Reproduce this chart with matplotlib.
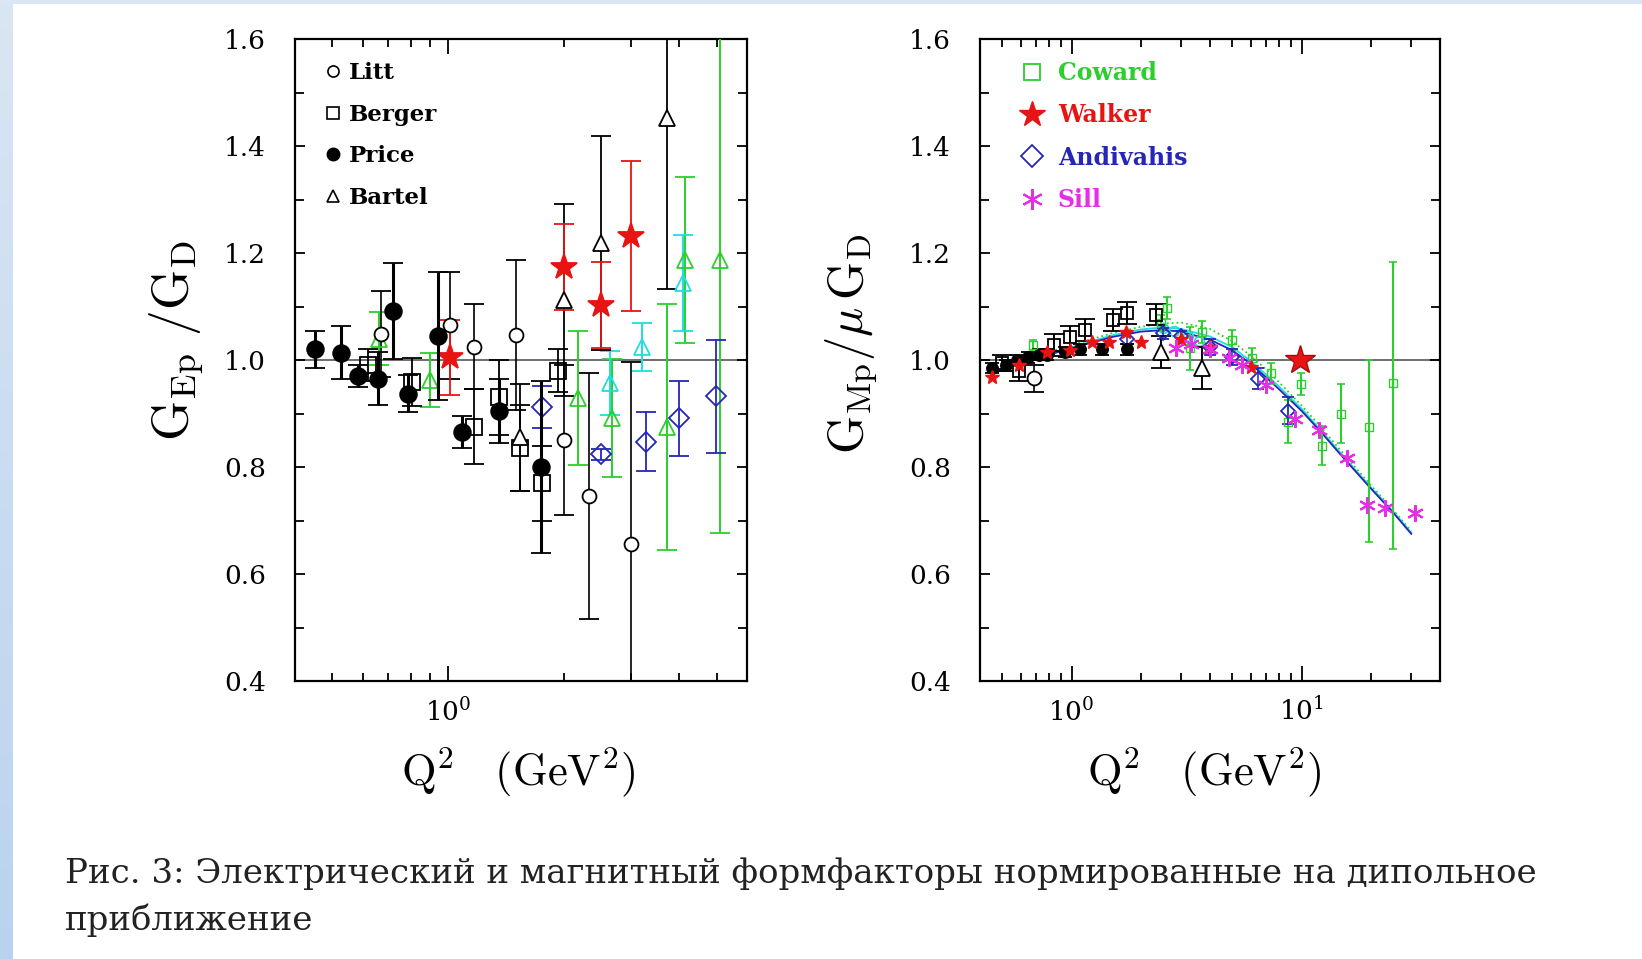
import numpy as np
import matplotlib
matplotlib.use("Agg")
import matplotlib.pyplot as plt
from matplotlib.lines import Line2D
from matplotlib.patches import Rectangle
from matplotlib.ticker import MultipleLocator, LogLocator, LogFormatterMathtext, NullFormatter, FormatStrFormatter

plt.rcParams['font.family'] = 'serif'
plt.rcParams['font.serif'] = ['DejaVu Serif']
plt.rcParams['mathtext.fontset'] = 'cm'

GREEN = '#2ccf2c'
CYAN = '#22dddd'
BLUE = '#2626b8'
RED = '#e81414'
MAGENTA = '#e62ee6'

# -----------------------------
# Left panel: G_Ep / G_D
# -----------------------------
litt_q2 = [0.668, 1.01, 1.17, 1.50, 2.0, 2.33, 3.0]
litt_ge = [1.049, 1.065, 1.025, 1.047, 0.85, 0.746, 0.657]
litt_err = [0.08, 0.10, 0.08, 0.14, 0.14, 0.23, 0.34]

berger_q2 = [0.62, 0.808, 1.166, 1.36, 1.54, 1.755, 1.93]
berger_ge = [0.99, 0.959, 0.875, 0.93, 0.835, 0.77, 0.98]
berger_err = [0.03, 0.045, 0.07, 0.07, 0.08, 0.07, 0.04]

price_q2 = [0.452, 0.528, 0.584, 0.657, 0.72, 0.785, 0.94, 1.09, 1.36, 1.75]
price_ge = [1.02, 1.014, 0.97, 0.965, 1.092, 0.937, 1.045, 0.865, 0.905, 0.80]
price_err = [0.035, 0.05, 0.02, 0.05, 0.09, 0.035, 0.12, 0.03, 0.06, 0.16]

bartel_q2 = [1.54, 2.0, 2.5, 3.72]
bartel_ge = [0.856, 1.112, 1.219, 1.452]
bartel_err = [0.10, 0.18, 0.20, 0.32]

walker_q2 = [1.01, 2.0, 2.5, 3.0]
walker_ge = [1.005, 1.174, 1.103, 1.232]
walker_err = [0.07, 0.08, 0.08, 0.14]

green_q2 = [0.66, 0.90, 2.18, 2.68, 3.72, 4.13, 5.1]
green_ge = [1.04, 0.963, 0.929, 0.891, 0.875, 1.187, 1.187]
green_err = [0.05, 0.05, 0.125, 0.11, 0.23, 0.155, 0.51]

cyan_q2 = [2.64, 3.19, 4.1]
cyan_ge = [0.957, 1.025, 1.144]
cyan_err = [0.06, 0.045, 0.09]

andiv_q2 = [1.755, 2.5, 3.27, 4.0, 4.97]
andiv_ge = [0.912, 0.824, 0.847, 0.891, 0.932]
andiv_err = [0.04, 0.01, 0.055, 0.07, 0.105]

# -----------------------------
# Right panel: G_Mp / mu G_D
# -----------------------------
litt_m_q2 = [0.69]
litt_m = [0.966]
litt_m_err = [0.025]

berger_m_q2 = [0.50, 0.59, 0.84, 0.98, 1.14, 1.51, 1.75, 2.34]
berger_m = [0.995, 0.98, 1.028, 1.043, 1.056, 1.075, 1.088, 1.085]
berger_m_err = [0.015, 0.02, 0.02, 0.02, 0.02, 0.02, 0.02, 0.02]

price_m_q2 = [0.45, 0.52, 0.58, 0.65, 0.72, 0.78, 0.94, 1.09, 1.36, 1.75]
price_m = [0.985, 0.99, 1.0, 1.005, 1.01, 1.01, 1.015, 1.02, 1.02, 1.02]
price_m_err = [0.01, 0.01, 0.01, 0.01, 0.01, 0.01, 0.01, 0.01, 0.01, 0.01]

bartel_m_q2 = [2.46, 3.71]
bartel_m = [1.015, 0.985]
bartel_m_err = [0.03, 0.04]

walker_m_q2 = [0.45, 0.59, 0.78, 0.98, 1.23, 1.46, 1.73, 2.0, 3.0, 4.0, 6.0]
walker_m = [0.968, 0.99, 1.015, 1.019, 1.034, 1.034, 1.052, 1.034, 1.04, 1.025, 0.987]
walker_hi_q2 = [9.8]
walker_hi = [1.0]

coward_q2 = [0.68, 2.46, 2.59, 3.26, 3.71, 5.0, 6.1, 7.4, 8.7, 9.9, 12.3, 14.9, 19.7, 24.9]
coward_m = [1.028, 1.069, 1.097, 1.022, 1.052, 1.037, 1.003, 0.975, 0.885, 0.955, 0.84, 0.90, 0.875, 0.957]
coward_lo = [0.01, 0.015, 0.02, 0.04, 0.02, 0.02, 0.02, 0.02, 0.04, 0.02, 0.037, 0.055, 0.215, 0.31]
coward_hi = [0.01, 0.015, 0.02, 0.04, 0.02, 0.02, 0.02, 0.02, 0.04, 0.02, 0.037, 0.055, 0.125, 0.226]

cyan_m_q2 = [2.5, 2.8, 3.2, 3.6]
cyan_m = [1.06, 1.055, 1.045, 1.035]

andiv_m_q2 = [1.75, 2.5, 3.0, 4.0, 5.0, 6.5, 8.7]
andiv_m = [1.04, 1.05, 1.045, 1.025, 1.005, 0.965, 0.905]
andiv_m_err = [0.01, 0.01, 0.01, 0.015, 0.015, 0.02, 0.025]

sill_q2 = [2.86, 3.3, 4.0, 4.86, 5.5, 7.04, 9.4, 11.97, 15.7, 19.3, 23.0, 31.0]
sill_m = [1.022, 1.03, 1.02, 1.004, 0.99, 0.953, 0.89, 0.87, 0.817, 0.729, 0.723, 0.714]

fit_q2 = [0.45, 0.6, 0.8, 1.0, 1.5, 2.0, 2.5, 3.0, 4.0, 5.0, 6.0, 7.0, 8.0, 10.0, 12.0, 15.0, 20.0, 25.0, 30.0]
fit_blue = [0.975, 0.993, 1.01, 1.022, 1.043, 1.053, 1.056, 1.053, 1.038, 1.018, 0.993, 0.968, 0.945, 0.905, 0.868, 0.82, 0.76, 0.715, 0.675]
fit_cyan = [0.977, 0.995, 1.012, 1.024, 1.046, 1.057, 1.061, 1.058, 1.044, 1.024, 0.998, 0.973, 0.95, 0.909, 0.871, 0.823, 0.762, 0.717, 0.677]
fit_green = [0.98, 0.998, 1.015, 1.028, 1.05, 1.062, 1.068, 1.07, 1.058, 1.035, 1.008, 0.983, 0.958, 0.915, 0.877, 0.828, 0.766, 0.72, 0.68]

W, H = 1642, 959
fig = plt.figure(figsize=(W / 100, H / 100), dpi=100)

# light blue frame of the screenshot
grad = np.linspace(0, 1, 256).reshape(-1, 1)
bax = fig.add_axes([0, 0, 13 / W, 1])
bax.imshow(grad, aspect='auto', cmap=matplotlib.colors.LinearSegmentedColormap.from_list(
    'b', ['#d9e6f4', '#b9d3ee']), extent=[0, 1, 0, 1])
bax.axis('off')
fig.add_artist(Rectangle((0, 1 - 4 / H), 1, 4 / H, transform=fig.transFigure,
                         color='#dae6f4', lw=0))

axL = fig.add_axes([295 / W, 1 - 681 / H, 452 / W, 642 / H])
axR = fig.add_axes([980 / W, 1 - 681 / H, 460 / W, 642 / H])


def style_axis(ax, xmin, xmax):
    ax.set_xscale('log')
    ax.set_xlim(xmin, xmax)
    ax.set_ylim(0.4, 1.6)
    ax.axhline(1.0, color='#555555', lw=1.2, zorder=1)
    ax.yaxis.set_major_locator(MultipleLocator(0.2))
    ax.yaxis.set_minor_locator(MultipleLocator(0.1))
    ax.yaxis.set_major_formatter(FormatStrFormatter('%.1f'))
    ax.xaxis.set_major_locator(LogLocator(base=10))
    ax.xaxis.set_minor_locator(LogLocator(base=10, subs=np.arange(2, 10)))
    ax.xaxis.set_major_formatter(LogFormatterMathtext())
    ax.xaxis.set_minor_formatter(NullFormatter())
    ax.tick_params(which='both', direction='in', top=True, right=True, width=1.3, colors='black')
    ax.tick_params(axis='y', which='major', length=7.5, pad=21, labelsize=19)
    ax.tick_params(axis='y', which='minor', length=6.5)
    ax.tick_params(axis='x', which='major', length=11, pad=12, labelsize=19)
    ax.tick_params(axis='x', which='minor', length=6)
    for s in ax.spines.values():
        s.set_linewidth(1.6)
    ax.set_xlabel(r'$\mathrm{Q}^2\ \ \ (\mathrm{GeV}^2)$', fontsize=32, va='center')


def eb(ax, x, y, err, fmt, color, mfc, ms, lw=1.2, cap=7, mew=1.3, z=3):
    ax.errorbar(x, y, yerr=err, fmt=fmt, color=color, mec=color, mfc=mfc, ms=ms,
                ecolor=color, elinewidth=lw, capsize=cap, capthick=lw, mew=mew, zorder=z)


# ---- left panel ----
style_axis(axL, 0.4, 6.0)
eb(axL, green_q2, green_ge, green_err, '^', GREEN, 'none', 11, lw=1.4)
eb(axL, cyan_q2, cyan_ge, cyan_err, '^', CYAN, 'none', 11, lw=1.4)
eb(axL, andiv_q2, andiv_ge, andiv_err, 'D', BLUE, 'none', 10, lw=1.3)
eb(axL, litt_q2, litt_ge, litt_err, 'o', 'black', 'white', 10, lw=1.2)
eb(axL, berger_q2, berger_ge, berger_err, 's', 'black', 'none', 11, lw=1.3)
eb(axL, bartel_q2, bartel_ge, bartel_err, '^', 'black', 'white', 11, lw=1.3)
eb(axL, walker_q2, walker_ge, walker_err, '*', RED, RED, 19, lw=1.3)
eb(axL, price_q2, price_ge, price_err, 'o', 'black', 'black', 12, lw=2.2, z=4)

axL.set_ylabel(r'$\mathrm{G}_{\mathrm{Ep}}\ /\mathrm{G}_{\mathrm{D}}$', fontsize=37,
               va='center', ha='center')
axL.yaxis.set_label_coords(-0.262, 0.53)
axL.xaxis.set_label_coords(0.493, -0.142)

hL = [Line2D([], [], ls='none', marker='o', mfc='white', mec='black', ms=8, mew=1.2),
      Line2D([], [], ls='none', marker='s', mfc='white', mec='black', ms=8, mew=1.2),
      Line2D([], [], ls='none', marker='o', mfc='black', mec='black', ms=9),
      Line2D([], [], ls='none', marker='^', mfc='white', mec='black', ms=9, mew=1.2)]
axL.legend(hL, ['Litt', 'Berger', 'Price', 'Bartel'], loc='upper left',
           bbox_to_anchor=(0.066, 0.964), frameon=False, borderpad=0, borderaxespad=0,
           handlelength=0.7, handletextpad=0.35, labelspacing=0.85,
           prop={'family': 'DejaVu Serif', 'weight': 'bold', 'size': 16.5})

# ---- right panel ----
style_axis(axR, 0.4, 40.0)
axR.plot(fit_q2, fit_green, color=GREEN, lw=1.3, ls=':', zorder=2)
axR.plot(fit_q2, fit_cyan, color=CYAN, lw=1.3, zorder=2)
axR.plot(fit_q2, fit_blue, color=BLUE, lw=1.3, zorder=2)
axR.errorbar(coward_q2, coward_m, yerr=[coward_lo, coward_hi], fmt='s', color=GREEN, mec=GREEN,
             mfc='none', ms=6, ecolor=GREEN, elinewidth=1.5, capsize=3, capthick=1.2, zorder=3)
axR.plot(cyan_m_q2, cyan_m, 'o', color=CYAN, mfc='none', ms=7, mew=1.3, zorder=3)
eb(axR, andiv_m_q2, andiv_m, andiv_m_err, 'D', BLUE, 'none', 7, lw=1.1, cap=4)
eb(axR, price_m_q2, price_m, price_m_err, 'o', 'black', 'black', 8, lw=1.5, cap=5)
eb(axR, berger_m_q2, berger_m, berger_m_err, 's', 'black', 'none', 9, lw=1.4, cap=7)
eb(axR, litt_m_q2, litt_m, litt_m_err, 'o', 'black', 'white', 10, lw=1.2, cap=7)
eb(axR, bartel_m_q2, bartel_m, bartel_m_err, '^', 'black', 'white', 11, lw=1.4, cap=7)
axR.plot(walker_m_q2, walker_m, '*', color=RED, ms=10, zorder=4)
axR.plot(sill_q2, sill_m, ls='none', marker=(6, 2, 0), color=MAGENTA, ms=12, mew=1.5, zorder=4)
axR.plot(walker_hi_q2, walker_hi, '*', color=RED, mec='#a01010', ms=22, zorder=5)

axR.set_ylabel(r'$\mathrm{G}_{\mathrm{Mp}}/\mu\,\mathrm{G}_{\mathrm{D}}$', fontsize=35,
               va='center', ha='center')
axR.yaxis.set_label_coords(-0.28, 0.525)
axR.xaxis.set_label_coords(0.487, -0.142)

hR = [Line2D([], [], ls='none', marker='s', mfc='none', mec=GREEN, ms=11, mew=1.3),
      Line2D([], [], ls='none', marker='*', color=RED, ms=19),
      Line2D([], [], ls='none', marker='D', mfc='none', mec=BLUE, ms=11, mew=1.3),
      Line2D([], [], ls='none', marker=(6, 2, 0), color=MAGENTA, ms=15, mew=1.5)]
axR.legend(hR, ['Coward', 'Walker', 'Andivahis', 'Sill'], loc='upper left',
           bbox_to_anchor=(0.09, 0.966), frameon=False, borderpad=0, borderaxespad=0,
           handlelength=0.9, handletextpad=0.65, labelspacing=0.78,
           labelcolor=[GREEN, RED, BLUE, MAGENTA],
           prop={'family': 'DejaVu Serif', 'weight': 'bold', 'size': 17})

# ---- caption ----
cap1 = 'Рис. 3: Электрический и магнитный формфакторы нормированные на дипольное'
cap2 = 'приближение'
fig.text(65 / W, 1 - 883 / H, cap1, fontsize=24.5, color='#222222', va='baseline',
         family='DejaVu Serif')
fig.text(65 / W, 1 - 930 / H, cap2, fontsize=24.5, color='#222222', va='baseline',
         family='DejaVu Serif')

fig.savefig('out.png', dpi=100)
